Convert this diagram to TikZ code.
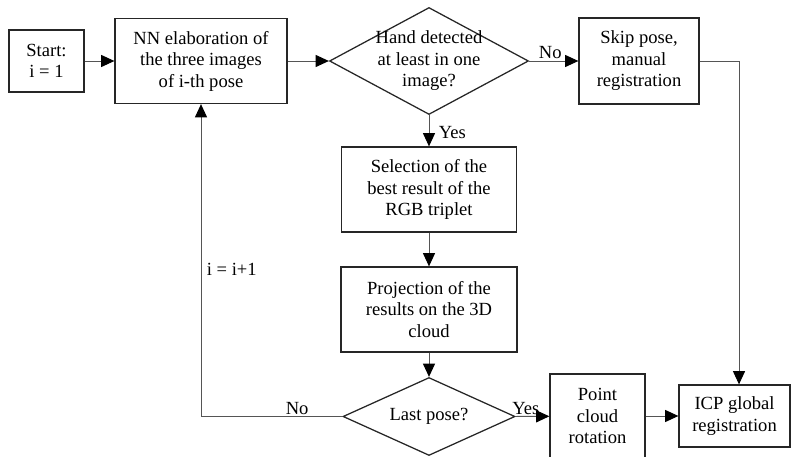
\documentclass[tikz,border=0pt]{standalone}
\usepackage{fontspec}
\setmainfont{Liberation Serif}
\usetikzlibrary{shapes.geometric,arrows.meta}
\definecolor{flowline}{HTML}{555555}

\begin{document}
\begin{tikzpicture}[
  font=\fontsize{13.2}{15.3}\selectfont,
  stepbox/.style={draw=black!85, line width=0.9pt, align=center, inner sep=0pt},
  decision/.style={diamond, draw=black!85, line width=0.9pt, inner sep=0pt},
  flow/.style={draw=flowline, line width=0.7pt, -{Triangle[length=3.3mm,width=3mm,color=black]}},
  tag/.style={inner sep=1pt}
]
  \useasboundingbox (0,0) rectangle (19.8,11.4);
  % top row
  \node[stepbox, minimum width=1.875cm, minimum height=1.55cm] (start) at (1.1625,9.875) {Start:\\i = 1};
  \node[stepbox, minimum width=4.3cm, minimum height=2.125cm] (nn) at (5.025,9.875) {NN elaboration of\\the three images\\of i-th pose};
  \node[decision, minimum width=4.975cm, minimum height=2.675cm] (hand) at (10.725,9.875) {};
  \node[align=center] (handtxt) at (hand) {Hand detected\\at least in one\\image?};
  \node[stepbox, minimum width=3.0cm, minimum height=2.15cm] (skip) at (15.975,9.875) {Skip pose,\\manual\\registration};
  % middle column
  \node[stepbox, minimum width=4.375cm, minimum height=2.125cm] (select) at (10.725,6.6625) {Selection of the\\best result of the\\RGB triplet};
  \node[stepbox, minimum width=4.4cm, minimum height=2.125cm] (proj) at (10.725,3.6625) {Projection of the\\results on the 3D\\cloud};
  % bottom row
  \node[decision, minimum width=4.3cm, minimum height=1.95cm] (last) at (10.725,0.9875) {};
  \node (lasttxt) at (last) {Last pose?};
  \node[stepbox, minimum width=2.375cm, minimum height=2.1cm] (rot) at (14.9375,1.0) {Point\\cloud\\rotation};
  \node[stepbox, minimum width=2.775cm, minimum height=1.55cm] (icp) at (18.3625,1.0) {ICP global\\registration};
  \coordinate (bend) at (18.475,9.875);

  % connectors
  \draw[flow] (start) -- (nn);
  \draw[flow] (nn) -- (hand.west);
  \draw[flow] (hand.east) -- node[tag, above, pos=0.43] {No} (skip);
  \draw[flow] (hand.south) -- node[tag, right, pos=0.55, xshift=0.2cm] {Yes} (select);
  \draw[flow] (select) -- (proj);
  \draw[flow] (proj) -- (last.north);
  \draw[flow] (last.east) -- node[tag, above, pos=0.3] {Yes} (rot);
  \draw[flow] (rot) -- (icp);
  \draw[flow] (skip.east) -- (bend) -- (bend |- icp.north);
  \draw[flow] (last.west) -- node[tag, above, pos=0.32] {No} (nn.south |- last.west)
    -- node[tag, right, pos=0.47, xshift=0.1cm] {i = i+1} (nn.south);
\end{tikzpicture}
\end{document}
